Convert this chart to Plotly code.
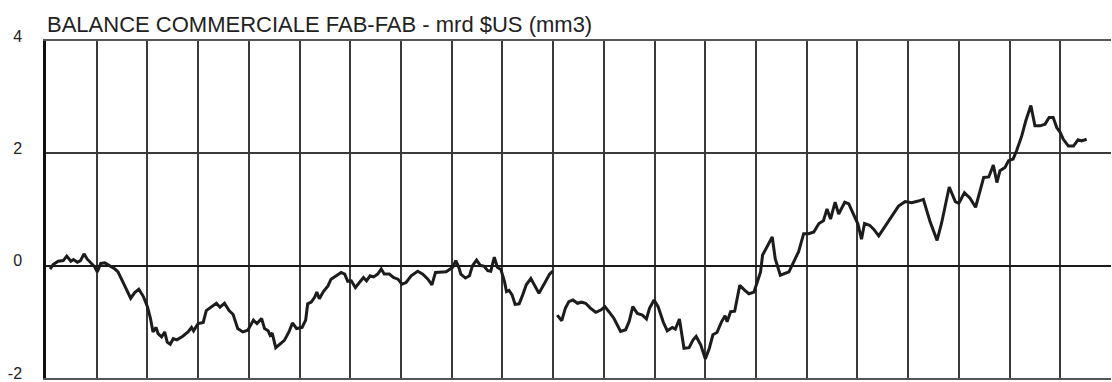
import plotly.graph_objects as go

# time in years from start of chart (each vertical grid = 1 year)
years_a = [0.08,0.14,0.24,0.34,0.41,0.49,0.54,0.62,0.68,0.75,0.81,0.88,0.96,1.01,1.08,1.16,1.26,1.36,1.42,1.52,
           1.60,1.67,1.75,1.83,1.92,2.00,2.06,2.11,2.17,2.21,2.28,2.34,2.39,2.45,2.51,2.58,2.69,2.80,2.87,2.91,
           3.00,3.10,3.16,3.26,3.36,3.43,3.52,3.61,3.69,3.78,3.88,3.98,4.09,4.16,4.25,4.31,4.38,4.42,4.46,4.53,
           4.62,4.70,4.79,4.86,4.94,5.05,5.12,5.16,5.23,5.30,5.34,5.39,5.47,5.56,5.62,5.71,5.82,5.89,5.95,6.02,
           6.10,6.18,6.26,6.32,6.39,6.46,6.54,6.61,6.67,6.77,6.85,6.94,7.02,7.10,7.20,7.33,7.43,7.53,7.61,7.68,
           7.79,7.89,7.97,8.02,8.08,8.14,8.18,8.27,8.35,8.41,8.49,8.56,8.64,8.71,8.77,8.84,8.90,8.97,9.04,9.08,
           9.13,9.19,9.25,9.33,9.40,9.47,9.56,9.65,9.72,9.82,9.93,10.00]
balance_a = [-0.06,0.02,0.08,0.09,0.17,0.08,0.11,0.06,0.09,0.21,0.12,0.05,-0.02,-0.11,0.04,0.05,0.00,-0.06,-0.11,-0.29,
             -0.43,-0.58,-0.48,-0.42,-0.55,-0.73,-0.94,-1.18,-1.10,-1.21,-1.27,-1.18,-1.36,-1.40,-1.30,-1.32,-1.26,-1.18,-1.10,-1.16,
             -1.03,-1.01,-0.80,-0.74,-0.67,-0.74,-0.67,-0.80,-0.87,-1.12,-1.18,-1.15,-0.97,-1.03,-0.94,-1.12,-1.16,-1.24,-1.20,-1.46,
             -1.40,-1.33,-1.18,-1.02,-1.12,-1.10,-0.97,-0.68,-0.65,-0.56,-0.47,-0.59,-0.46,-0.36,-0.24,-0.18,-0.12,-0.15,-0.28,-0.27,
             -0.39,-0.30,-0.21,-0.27,-0.18,-0.20,-0.15,-0.06,-0.15,-0.15,-0.21,-0.24,-0.33,-0.30,-0.18,-0.10,-0.15,-0.24,-0.34,-0.12,
             -0.12,-0.11,-0.06,-0.03,0.09,-0.03,-0.15,-0.22,-0.18,0.00,0.10,0.01,-0.01,-0.09,-0.10,0.15,-0.03,-0.07,-0.28,-0.46,
             -0.44,-0.52,-0.69,-0.68,-0.52,-0.34,-0.23,-0.37,-0.49,-0.33,-0.15,-0.09]

years_b = [10.08,10.17,10.24,10.31,10.39,10.48,10.56,10.64,10.74,10.84,10.94,11.02,11.10,11.20,11.33,11.43,11.50,11.57,11.66,11.76,
           11.84,11.90,11.99,12.07,12.17,12.25,12.35,12.41,12.49,12.58,12.68,12.76,12.82,12.91,13.00,13.08,13.15,13.23,13.32,13.39,
           13.43,13.50,13.58,13.68,13.78,13.86,13.96,14.02,14.09,14.13,14.24,14.32,14.38,14.48,14.65,14.74,14.84,14.94,15.04,15.14,
           15.24,15.33,15.40,15.47,15.56,15.63,15.75,15.83,15.93,16.01,16.08,16.14,16.24,16.32,16.42,16.55,16.68,16.81,16.94,17.07,
           17.20,17.30,17.43,17.57,17.66,17.81,17.93,18.00,18.11,18.22,18.33,18.41,18.49,18.59,18.68,18.75,18.81,18.91,18.98,19.07,
           19.14,19.24,19.32,19.42,19.50,19.60,19.70,19.78,19.86,19.93,20.00,20.06,20.16,20.26,20.35,20.42,20.52]
balance_b = [-0.88,-0.98,-0.76,-0.64,-0.61,-0.67,-0.65,-0.67,-0.76,-0.83,-0.79,-0.73,-0.82,-0.94,-1.17,-1.14,-0.99,-0.73,-0.85,-0.88,
             -0.95,-0.76,-0.61,-0.73,-1.00,-1.16,-1.10,-1.13,-0.95,-1.47,-1.46,-1.32,-1.26,-1.41,-1.66,-1.47,-1.23,-1.19,-1.00,-0.89,
             -1.00,-0.82,-0.81,-0.35,-0.44,-0.50,-0.47,-0.32,-0.11,0.19,0.36,0.51,0.12,-0.17,-0.11,0.07,0.25,0.57,0.57,0.60,
             0.75,0.80,1.01,0.83,1.13,0.92,1.13,1.10,0.89,0.74,0.47,0.75,0.72,0.65,0.53,0.70,0.89,1.06,1.14,1.12,
             1.15,1.18,0.79,0.45,0.76,1.40,1.14,1.11,1.30,1.20,1.04,1.29,1.57,1.58,1.79,1.48,1.69,1.75,1.87,1.90,
             2.05,2.31,2.58,2.85,2.49,2.49,2.52,2.64,2.64,2.46,2.37,2.25,2.13,2.13,2.24,2.22,2.25]

title_text = "BALANCE COMMERCIALE FAB-FAB - mrd $US (mm3)"
y_ticks = [-2, 0, 2, 4]
n_years = 21

x_all = years_a + [None] + years_b
y_all = balance_a + [None] + balance_b

fig = go.Figure()
fig.add_trace(go.Scatter(
    x=x_all, y=y_all, mode="lines",
    line=dict(color="#1c1c1c", width=3),
    connectgaps=False, hoverinfo="skip", showlegend=False,
))

fig.update_layout(
    width=1112, height=382,
    margin=dict(l=46, r=1, t=41, b=4),
    paper_bgcolor="white", plot_bgcolor="white",
    font=dict(family="Liberation Sans, Arial, sans-serif", color="#222"),
    title=dict(text=title_text, x=47/1112, xanchor="left", xref="container",
               y=1-24/382, yanchor="middle", yref="container",
               font=dict(size=22, color="#222", family="Liberation Sans, Arial, sans-serif")),
)
fig.update_xaxes(
    range=[0, n_years], tick0=0, dtick=1, showticklabels=False, ticks="",
    showgrid=True, gridcolor="#3a3a3a", gridwidth=1.5,
    showline=True, mirror=True, linecolor="#555", linewidth=1.5,
    zeroline=False, fixedrange=True,
)
fig.update_yaxes(
    range=[-2, 4], tickvals=y_ticks, ticktext=[str(v) for v in y_ticks],
    tickfont=dict(size=16, color="#222"), ticks="", ticklabelstandoff=18,
    ticklabelshift=-5, ticklabeloverflow="allow", automargin=False,
    showgrid=True, gridcolor="#3a3a3a", gridwidth=1.5,
    zeroline=True, zerolinecolor="#1a1a1a", zerolinewidth=2.2,
    showline=True, linecolor="#111", linewidth=2.5, fixedrange=True,
)

fig.write_html("out.html", config={"displayModeBar": False},
               post_script="document.body.style.margin='0';document.body.style.overflow='hidden';")
